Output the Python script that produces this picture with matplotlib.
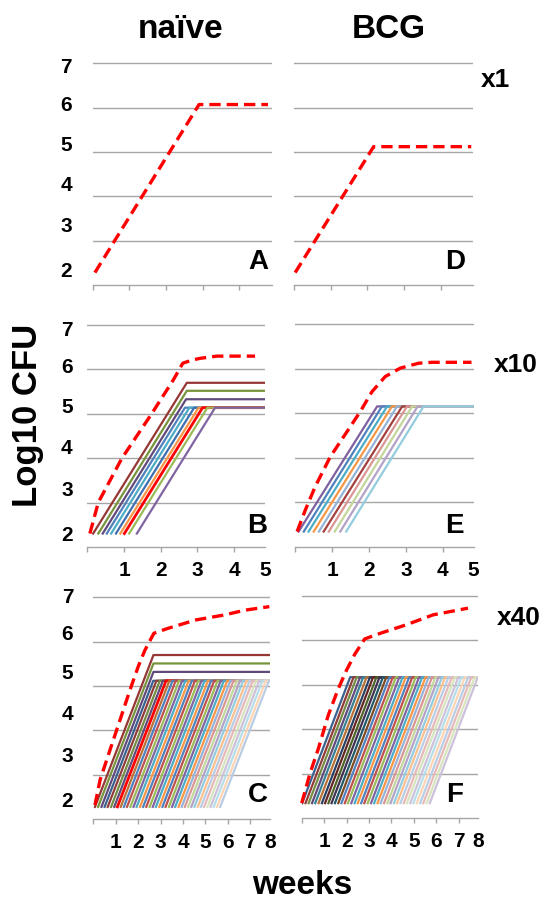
import matplotlib.pyplot as plt

plt.rcParams['font.family'] = ['Liberation Sans', 'DejaVu Sans']
plt.rcParams['font.weight'] = 'bold'

# ---------------- data (weeks, log10 CFU) ----------------
# x1 : single mean curve
a_mean_x = [0.06, 2.90, 4.78]
a_mean_y = [2.28, 6.07, 6.07]
d_mean_x = [0.04, 2.17, 4.82]
d_mean_y = [2.28, 5.12, 5.12]

# x10 naive
b_mean_x = [0.07, 0.30, 0.94, 1.75, 2.34, 2.60, 2.85, 3.07, 3.53, 4.57]
b_mean_y = [2.31, 3.01, 4.00, 5.00, 5.76, 6.14, 6.21, 6.25, 6.30, 6.30]
b_start = [0.16, 0.30, 0.42, 0.53, 0.65, 0.78, 0.90, 1.01, 1.14, 1.35]
b_peak = [2.71, 2.71, 2.69, 2.66, 2.78, 2.91, 3.03, 3.14, 3.27, 3.48]
b_level = [5.70, 5.52, 5.33, 5.14, 5.14, 5.14, 5.14, 5.14, 5.14, 5.14]
b_base = 2.31

# x10 BCG
e_mean_x = [0.05, 0.27, 0.54, 0.95, 1.40, 1.76, 2.08, 2.44, 2.85, 3.35, 3.71, 4.78]
e_mean_y = [2.34, 2.82, 3.35, 4.02, 4.58, 5.03, 5.48, 5.82, 6.01, 6.12, 6.14, 6.14]
e_start = [0.09, 0.23, 0.36, 0.50, 0.64, 0.77, 0.91, 1.07, 1.22, 1.38]
e_peak = [2.22, 2.35, 2.49, 2.62, 2.76, 2.90, 3.03, 3.17, 3.32, 3.48]
e_level = [5.15] * 10
e_base = 2.34

# x40 naive
c_mean_x = [0.07, 0.30, 0.74, 1.19, 1.63, 2.00, 2.30, 2.54, 2.70, 3.32, 4.57, 5.82, 6.76, 7.85]
c_mean_y = [2.32, 2.89, 3.56, 4.24, 4.91, 5.44, 5.81, 6.04, 6.19, 6.30, 6.49, 6.60, 6.71, 6.79]
c_start = [0.07, 0.21, 0.36, 0.50, 0.64, 0.79, 0.93, 1.07, 1.22, 1.36,
           1.50, 1.65, 1.79, 1.93, 2.08, 2.22, 2.36, 2.51, 2.65, 2.79,
           2.94, 3.08, 3.22, 3.37, 3.51, 3.65, 3.80, 3.94, 4.08, 4.23,
           4.37, 4.51, 4.66, 4.80, 4.94, 5.09, 5.23, 5.37, 5.52, 5.66]
c_peak = [2.68, 2.68, 2.68, 2.67, 2.81, 2.96, 3.10, 3.24, 3.39, 3.53,
          3.67, 3.82, 3.96, 4.10, 4.25, 4.39, 4.53, 4.68, 4.82, 4.96,
          5.11, 5.25, 5.39, 5.54, 5.68, 5.82, 5.97, 6.11, 6.25, 6.40,
          6.54, 6.68, 6.83, 6.97, 7.11, 7.26, 7.40, 7.54, 7.69, 7.83]
c_level = [5.70, 5.51, 5.32] + [5.12] * 37
c_base = 2.28

# x40 BCG
f_mean_x = [0.00, 0.37, 0.74, 1.18, 1.63, 2.00, 2.37, 2.81, 3.53, 4.62, 5.86, 7.41]
f_mean_y = [2.34, 3.01, 3.56, 4.31, 4.91, 5.33, 5.69, 6.03, 6.16, 6.34, 6.57, 6.72]
f_start = [0.02, 0.17, 0.31, 0.46, 0.60, 0.75, 0.90, 1.04, 1.19, 1.33,
           1.48, 1.63, 1.77, 1.92, 2.06, 2.21, 2.36, 2.50, 2.65, 2.79,
           2.94, 3.09, 3.23, 3.38, 3.52, 3.67, 3.82, 3.96, 4.11, 4.25,
           4.40, 4.55, 4.69, 4.84, 4.98, 5.13, 5.28, 5.42, 5.57, 5.71]
f_peak = [2.16, 2.31, 2.45, 2.60, 2.74, 2.89, 3.04, 3.18, 3.33, 3.47,
          3.62, 3.77, 3.91, 4.06, 4.20, 4.35, 4.50, 4.64, 4.79, 4.93,
          5.08, 5.23, 5.37, 5.52, 5.66, 5.81, 5.96, 6.10, 6.25, 6.39,
          6.54, 6.69, 6.83, 6.98, 7.12, 7.27, 7.42, 7.56, 7.71, 7.85]
f_level = [5.17] * 40
f_base = 2.34

grid_levels = [3, 4, 5, 6, 7]
ytick_text = ['2', '3', '4', '5', '6', '7']

# ---------------- styles ----------------
GRAY = '#a6a6a6'
base = ['#4F81BD', '#C0504D', '#9BBB59', '#8064A2', '#4BACC6', '#F79646']
dark25 = ['#3B618E', '#903C3A', '#748C43', '#604B7A', '#388195', '#B97135']
dark50 = ['#284061', '#632523', '#4F6228', '#403152', '#215968', '#7C4B23']
light40 = ['#95B3D7', '#D99694', '#C3D69B', '#B3A2C7', '#93CDDD', '#FAC090']
light60 = ['#B9CDE5', '#E6B9B8', '#D7E4BD', '#CCC1DA', '#B7DEE8', '#FCD5B5']

b_colors = ['#953735', '#77933C', '#604A7B', '#4F81BD', '#4BACC6',
            '#3F6FAF', '#F79646', '#FF0000', '#9BBB59', '#8064A2']
e_colors = ['#7E5FA0', '#4F81BD', '#4BACC6', '#F79646', '#95B3D7',
            '#A4403D', '#D99694', '#C3D69B', '#B3A2C7', '#93CDDD']
c_colors = ['#953735', '#77933C', '#604A7B'] + dark25 + base + base + base + light40 + light60 + light60[:1]
c_colors[7] = '#FF0000'
f_colors = dark25 + dark50 + base + base + light40 + light60 + light60[:4]

W, H = 547, 902
YTOP = 7.06

# panel boxes in pixels: left, right, y of 2, y of 7
boxes = {
    'A': (92.7, 272.0, 285.0, 63.3),
    'D': (293.7, 472.7, 285.0, 63.3),
    'B': (87.3, 265.0, 547.3, 325.0),
    'E': (295.3, 473.7, 546.7, 324.0),
    'C': (93.4, 270.0, 819.3, 597.3),
    'F': (301.7, 478.3, 818.3, 595.7),
}
xmax = {'A': 4.89, 'D': 4.86, 'B': 4.84, 'E': 4.84, 'C': 7.88, 'F': 7.87}
ylab_pos = {
    'A': [2.36, 3.36, 4.30, 5.20, 6.10, 6.94],
    'B': [2.32, 3.33, 4.26, 5.20, 6.10, 6.93],
    'C': [2.45, 3.47, 4.40, 5.32, 6.20, 7.04],
}
ylab_pad = {'A': 15.0, 'B': 10.5, 'C': 14.5}


def make_axes(fig, key):
    l, r, y2, y7 = boxes[key]
    per = (y2 - y7) / 5.0
    top = y7 - (YTOP - 7) * per
    ax = fig.add_axes([l / W, 1 - y2 / H, (r - l) / W, (y2 - top) / H])
    ax.set_xlim(0, xmax[key])
    ax.set_ylim(2, YTOP)
    for s in ['top', 'right', 'left']:
        ax.spines[s].set_visible(False)
    ax.spines['bottom'].set_color(GRAY)
    ax.spines['bottom'].set_linewidth(1.0)
    ax.xaxis.remove_overlapping_locs = False
    ax.yaxis.remove_overlapping_locs = False

    # tick marks at whole weeks
    n = int(xmax[key])
    ax.set_xticks(list(range(0, n + 1)), minor=True)
    ax.tick_params(axis='x', which='minor', length=3.5, width=1, color=GRAY, direction='out')
    if key in ('B', 'E'):
        ax.set_xticks([1, 2, 3, 4, xmax[key] - 0.001])
        ax.set_xticklabels(['1', '2', '3', '4', '5'])
    elif key in ('C', 'F'):
        ax.set_xticks([1, 2, 3, 4, 5, 6, 7, xmax[key] - 0.001])
        ax.set_xticklabels(['1', '2', '3', '4', '5', '6', '7', '8'])
    else:
        ax.set_xticks([])
    ax.tick_params(axis='x', which='major', length=0, pad=10.0, labelsize=15)

    ax.set_yticks(grid_levels, minor=True)
    if key in ylab_pos:
        ax.set_yticks(ylab_pos[key])
        ax.set_yticklabels(ytick_text)
    else:
        ax.set_yticks([])
    ax.tick_params(axis='y', which='both', length=0, pad=ylab_pad.get(key, 10), labelsize=15)
    ax.grid(axis='y', which='minor', color=GRAY, linewidth=1.0)
    return ax


def draw_mean(ax, x, y):
    ax.plot(x, y, color='#FF0000', linewidth=2.4, dashes=(3.4, 1.8),
            dash_capstyle='butt', zorder=5, clip_on=False)


def draw_bugs(ax, starts, peaks, levels, base_y, colors, x_end):
    for i in range(len(starts)):
        lw = 2.0 if colors[i] == '#FF0000' else 1.6
        ax.plot([starts[i], peaks[i], x_end], [base_y, levels[i], levels[i]],
                color=colors[i], linewidth=lw, zorder=3)


fig = plt.figure(figsize=(W / 100, H / 100), dpi=100)

axA = make_axes(fig, 'A')
draw_mean(axA, a_mean_x, a_mean_y)
axD = make_axes(fig, 'D')
draw_mean(axD, d_mean_x, d_mean_y)

axB = make_axes(fig, 'B')
draw_bugs(axB, b_start, b_peak, b_level, b_base, b_colors, xmax['B'])
draw_mean(axB, b_mean_x, b_mean_y)
axE = make_axes(fig, 'E')
draw_bugs(axE, e_start, e_peak, e_level, e_base, e_colors, xmax['E'])
draw_mean(axE, e_mean_x, e_mean_y)

axC = make_axes(fig, 'C')
draw_bugs(axC, c_start, c_peak, c_level, c_base, c_colors, xmax['C'])
draw_mean(axC, c_mean_x, c_mean_y)
axF = make_axes(fig, 'F')
draw_bugs(axF, f_start, f_peak, f_level, f_base, f_colors, xmax['F'])
draw_mean(axF, f_mean_x, f_mean_y)

# panel letters
letters = {'A': (268, 269.3), 'D': (465.3, 269.3), 'B': (267, 533.3),
           'E': (464, 533.0), 'C': (267.5, 801.7), 'F': (463, 801.7)}
for k, (px, py) in letters.items():
    fig.text(px / W, 1 - py / H, k, ha='right', va='baseline', fontsize=20)

# column titles and multiplicity labels
fig.text(181 / W, 1 - 38 / H, 'naïve', ha='center', va='baseline', fontsize=24)
fig.text(389 / W, 1 - 38.5 / H, 'BCG', ha='center', va='baseline', fontsize=24)
fig.text(481 / W, 1 - 87 / H, 'x1', ha='left', va='baseline', fontsize=19)
fig.text(493.7 / W, 1 - 372 / H, 'x10', ha='left', va='baseline', fontsize=19)
fig.text(496.5 / W, 1 - 625 / H, 'x40', ha='left', va='baseline', fontsize=19)

fig.text(28 / W, 1 - 415 / H, 'Log10 CFU', rotation=90, ha='center', va='center', fontsize=25)
fig.text(302.6 / W, 1 - 894 / H, 'weeks', ha='center', va='baseline', fontsize=24)

fig.savefig('out.png', dpi=100)
